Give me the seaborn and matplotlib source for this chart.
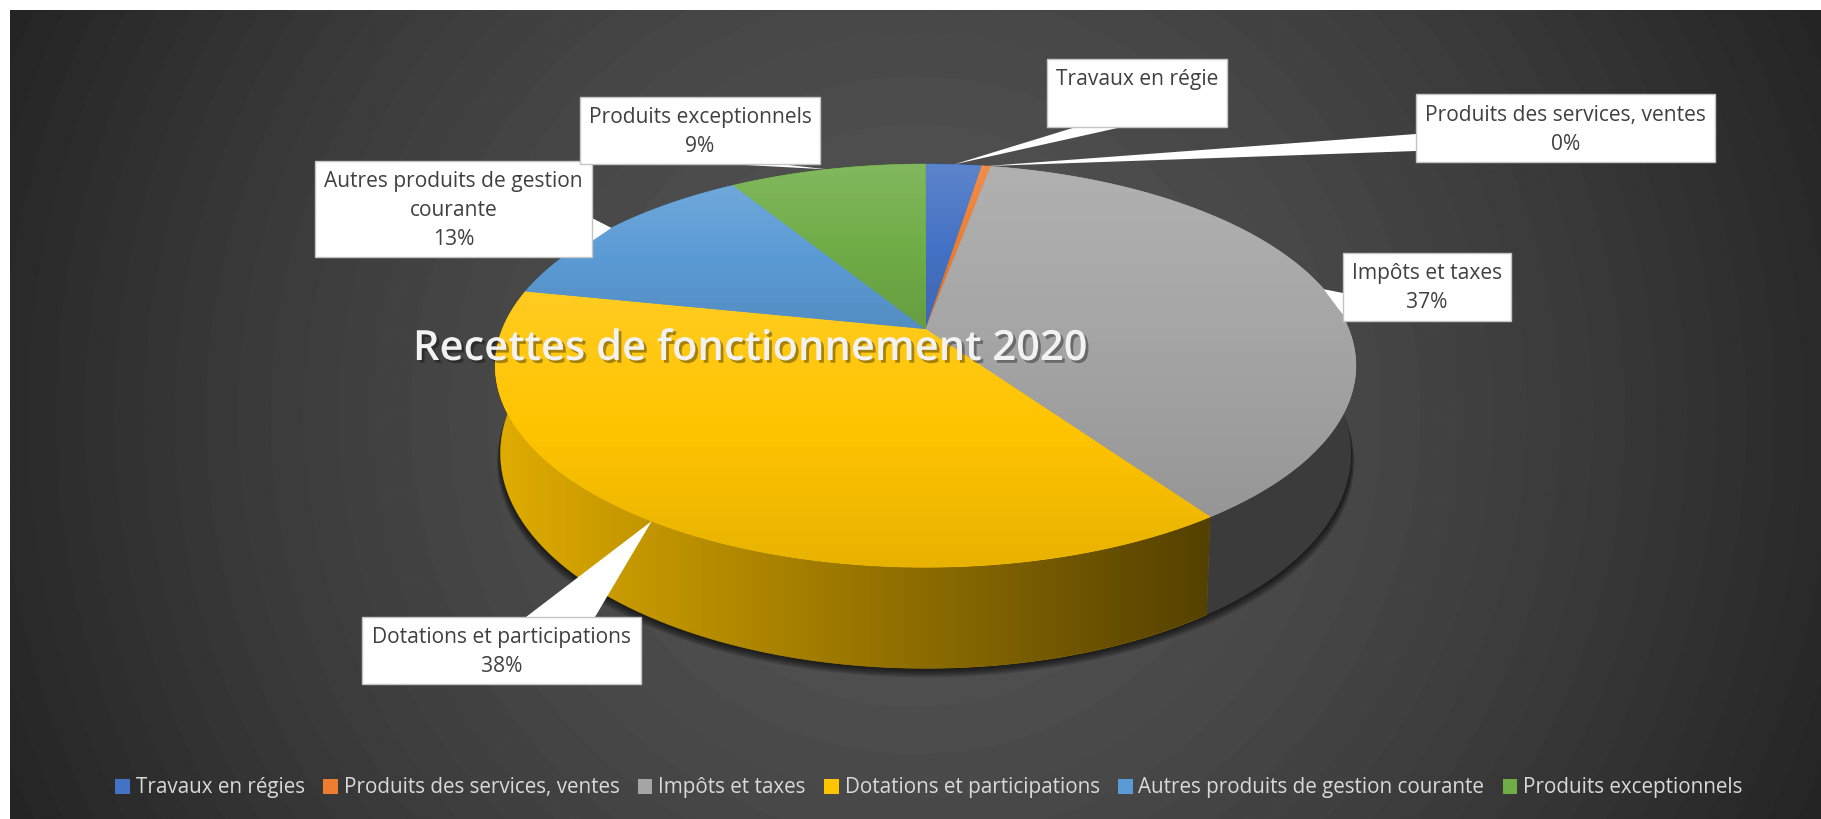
import numpy as np
import matplotlib
matplotlib.use('Agg')
import matplotlib.pyplot as plt
import matplotlib.patheffects as pe
from matplotlib.patches import Polygon, Rectangle, Patch
import seaborn as sns

# values (percent)
categories = ['Travaux en régies', 'Produits des services, ventes', 'Impôts et taxes',
              'Dotations et participations', 'Autres produits de gestion courante', 'Produits exceptionnels']
values = [2.5, 0.4, 37.4, 37.9, 13.0, 8.8]
label_names = ['Travaux en régie', 'Produits des services, ventes', 'Impôts et taxes',
               'Dotations et participations', 'Autres produits de gestion\ncourante', 'Produits exceptionnels']
label_pcts = ['', '0%', '37%', '38%', '13%', '9%']
title = 'Recettes de fonctionnement 2020'

colors = sns.color_palette(['#4472C4', '#ED7D31', '#A5A5A5', '#FFC400', '#5B9BD5', '#70AD47'])
wall_shade = [(.5, .5), (.5, .5), (.36, .36), (.88, .33), (.5, .5), (.5, .5)]

# label boxes: x0, x1, y0, y1 and the two points where the pointer leaves the box
boxes = [(1047, 1227, 59, 127), (1416, 1715, 94, 162), (1343, 1511, 253, 321),
         (362, 641, 617, 684), (315, 592, 161, 257), (580, 820, 97, 164)]
bases = [((1076, 127), (1122, 127)), ((1416, 134), (1416, 151)), ((1343, 293), (1343, 315)),
         ((526, 617), (595, 617)), ((592, 218), (592, 241)), ((727, 164), (780, 164))]

# pie geometry in pixels
cx, cy = 925.6, 329.0
rx, ry, persp = 423.1, 194.9, 0.1816
W, H = 1821, 819

sns.set_theme(style='white')
plt.rcParams['font.family'] = ['Open Sans', 'DejaVu Sans']

fig = plt.figure(figsize=(W / 100, H / 100), dpi=100, facecolor='white')
ax = fig.add_axes([0, 0, 1, 1])
ax.set_axis_off()


def rim(frac):
    # frac is the share of the turn, clockwise from 12 o'clock
    t = np.asarray(frac) * 2 * np.pi
    u, v = np.sin(t), np.cos(t)
    w = 1 + persp * v
    return cx + rx * u / w, cy - ry * v / w


def low(x, y):
    return cx + (x - cx) * 0.988, y + 97.6 + (y - 514.5) * 0.0667


def grad_image(poly, img, extent, z, under):
    patch = Polygon(poly, closed=True, transform=ax.transData, fc=under, ec=under, lw=0.5, zorder=z - 0.1)
    ax.add_patch(patch)
    im = ax.imshow(img, extent=extent, aspect='auto', zorder=z, interpolation='bilinear')
    im.set_clip_path(patch)


# background
yy, xx = np.mgrid[0:H, 0:W]
r = np.hypot(xx - 910, yy - 410) / 1030
level = 85 - 52 * np.clip(r, 0, 1) ** 1.5
level = np.round(level / 2) * 2 / 255
ax.imshow(level, cmap='gray', vmin=0, vmax=1, extent=(10, W, H, 10), aspect='auto', zorder=0)

shares = np.array(values) / np.sum(values)
edges = np.concatenate([[0], np.cumsum(shares)])

# drop shadow under the wall
circle = np.linspace(0, 1, 400)
sx, sy = low(*rim(circle))
for i in range(7, 0, -1):
    ax.fill(cx + (sx - cx) * (1 + i * 0.0012), sy + i * 1.3, color='black', alpha=0.12, lw=0, zorder=1)

# walls first, the top face covers whatever is behind it
for c, a, b, shade in zip(colors, edges[:-1], edges[1:], wall_shade):
    f = np.linspace(a, b, 150)
    x, y = rim(f)
    lx, ly = low(x, y)
    poly = np.column_stack([np.r_[x, lx[::-1]], np.r_[y, ly[::-1]]])
    ramp = np.linspace(shade[0], shade[1], 256)
    img = (np.outer(ramp, c)[None, :, :]).clip(0, 1)
    grad_image(poly, img, (poly[:, 0].min(), poly[:, 0].max(), poly[:, 1].max(), poly[:, 1].min()), 2,
               tuple(np.array(c) * np.mean(shade)))

# top face
for c, a, b in zip(colors, edges[:-1], edges[1:]):
    f = np.linspace(a, b, 200)
    x, y = rim(f)
    poly = np.column_stack([np.r_[cx, x], np.r_[cy, y]])
    c = np.array(c)
    t = np.linspace(0, 1, 128)[:, None]
    top, bottom = c + (1 - c) * 0.13, c * 0.91
    img = np.where(t < .5, top + (c - top) * t * 2, c + (bottom - c) * (t - .5) * 2)[:, None, :]
    grad_image(poly, img, (poly[:, 0].min(), poly[:, 0].max(), poly[:, 1].max(), poly[:, 1].min()), 3, tuple(c))

# callouts, the tip sits on the rim at the middle of each slice
mids = (edges[:-1] + edges[1:]) / 2
for name, pct, box, base, m in zip(label_names, label_pcts, boxes, bases, mids):
    x0, x1, y0, y1 = box
    tip = rim(m)
    ax.add_patch(Polygon([base[0], tip, base[1]], closed=True, fc='white', ec='none', zorder=4))
    ax.add_patch(Rectangle((x0, y0), x1 - x0, y1 - y0, fc='white', ec='#c4c4c4', lw=1, zorder=4))
    lines = name.split('\n') + [pct]
    yc = (y0 + y1) / 2 - (len(lines) - 1) * 14.5
    for i, line in enumerate(lines):
        ax.text((x0 + x1) / 2, yc + i * 29 + 7, line, ha='center', va='baseline', fontsize=15.1,
                color='#404040', zorder=5)

ax.text(750, 360, title, ha='center', va='baseline', fontsize=30, fontweight='semibold', color='#f2f2f2', zorder=6,
        path_effects=[pe.withSimplePatchShadow(offset=(2, -2), shadow_rgbFace='black', alpha=0.35)])

handles = [Patch(fc=c, ec='none') for c in colors]
leg = ax.legend(handles, categories, ncol=6, loc='center', bbox_to_anchor=(929, 788),
                bbox_transform=ax.transData, frameon=False, fontsize=14.9, labelcolor='#d9d9d9',
                handlelength=0.7, handleheight=0.7, handletextpad=0.28, columnspacing=0.9, borderpad=0, borderaxespad=0)
leg.set_zorder(6)

ax.set_xlim(0, W)
ax.set_ylim(H, 0)
fig.savefig('out.png', dpi=100, facecolor='white')
